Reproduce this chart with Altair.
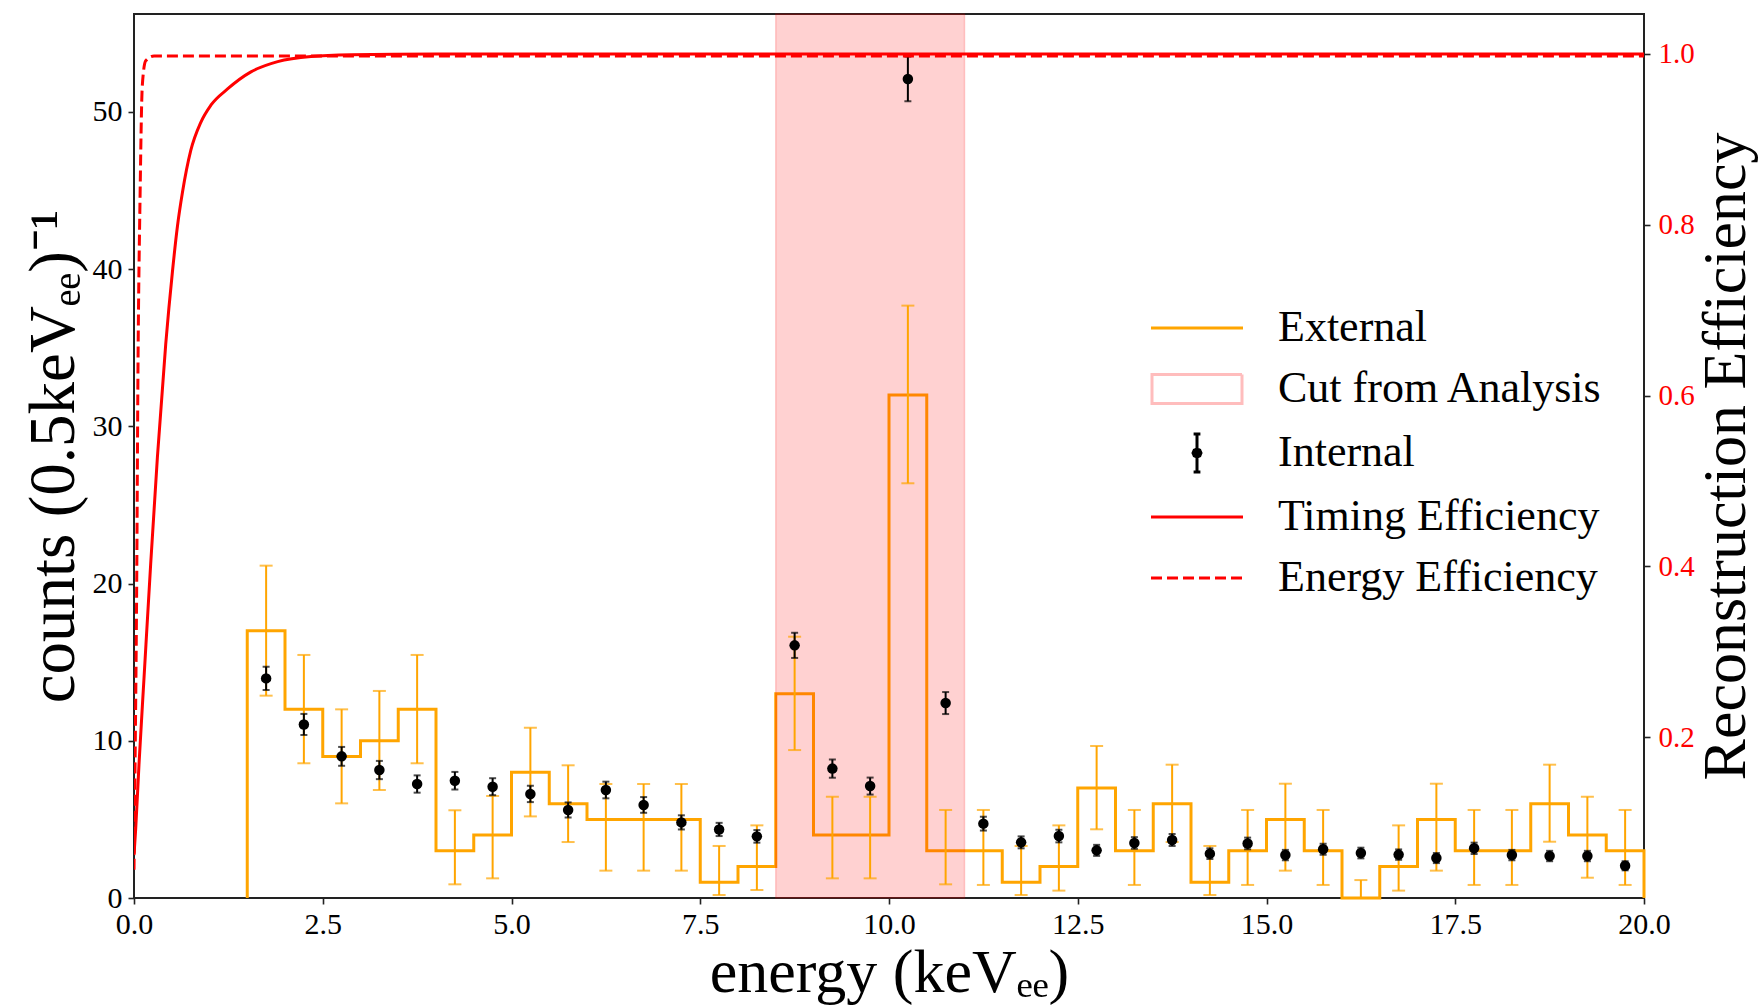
import altair as alt
import pandas as pd

# ---------------- data ----------------
bin_edges = [1.5, 2.0, 2.5, 3.0, 3.5, 4.0, 4.5, 5.0, 5.5, 6.0, 6.5, 7.0, 7.5, 8.0, 8.5,
             9.0, 9.5, 10.0, 10.5, 11.0, 11.5, 12.0, 12.5, 13.0, 13.5, 14.0, 14.5, 15.0,
             15.5, 16.0, 16.5, 17.0, 17.5, 18.0, 18.5, 19.0, 19.5, 20.0]
bin_centers = [1.75, 2.25, 2.75, 3.25, 3.75, 4.25, 4.75, 5.25, 5.75, 6.25, 6.75, 7.25,
               7.75, 8.25, 8.75, 9.25, 9.75, 10.25, 10.75, 11.25, 11.75, 12.25, 12.75,
               13.25, 13.75, 14.25, 14.75, 15.25, 15.75, 16.25, 16.75, 17.25, 17.75,
               18.25, 18.75, 19.25, 19.75]

external_counts = [17, 12, 9, 10, 12, 3, 4, 8, 6, 5, 5, 5, 1, 2, 13, 4, 4, 32, 3, 3, 1, 2,
                   7, 3, 6, 1, 3, 5, 3, 0, 2, 5, 3, 3, 6, 4, 3]
external_lo = [12.87, 8.57, 6.02, 6.87, 8.57, 0.87, 1.25, 5.19, 3.56, 1.74, 1.74, 1.74,
               0.19, 0.51, 9.41, 1.25, 1.25, 26.38, 0.87, 0.83, 0.19, 0.47, 4.37, 0.83,
               3.56, 0.19, 0.83, 1.74, 0.83, 0.0, 0.47, 1.74, 0.83, 0.83, 3.58, 1.29, 0.83]
external_hi = [21.14, 15.46, 12.0, 13.17, 15.46, 5.58, 6.49, 10.83, 8.44, 7.25, 7.25, 7.25,
               3.31, 4.62, 16.62, 6.44, 6.44, 37.68, 5.6, 5.6, 3.31, 4.62, 9.67, 5.6,
               8.48, 3.31, 5.6, 7.27, 5.6, 1.14, 4.62, 7.27, 5.6, 5.6, 8.48, 6.44, 5.6]

internal_counts = [13.97, 11.04, 9.01, 8.14, 7.25, 7.46, 7.08, 6.62, 5.6, 6.87, 5.92, 4.81,
                   4.36, 3.92, 16.07, 8.23, 7.12, 52.1, 12.4, 4.73, 3.54, 3.94, 3.03, 3.5,
                   3.69, 2.82, 3.47, 2.73, 3.1, 2.86, 2.76, 2.54, 3.16, 2.73, 2.67, 2.67, 2.05]
internal_err = [0.74, 0.67, 0.6, 0.58, 0.55, 0.56, 0.54, 0.52, 0.48, 0.53, 0.5, 0.45, 0.42,
                0.4, 0.8, 0.58, 0.54, 1.42, 0.7, 0.44, 0.38, 0.4, 0.35, 0.37, 0.38, 0.34,
                0.37, 0.33, 0.35, 0.34, 0.33, 0.32, 0.36, 0.33, 0.33, 0.33, 0.29]

cut_start = [8.5]
cut_end = [11.0]

timing_x = [0.0, 0.022, 0.066, 0.133, 0.221, 0.31, 0.42, 0.509, 0.575, 0.642, 0.752,
            0.885, 1.018, 1.239, 1.549, 1.903, 2.345, 2.876, 4.0, 20.0]
timing_eff = [0.062, 0.092, 0.168, 0.27, 0.403, 0.528, 0.66, 0.745, 0.798, 0.838, 0.887,
              0.92, 0.94, 0.959, 0.979, 0.991, 0.997, 0.999, 1.0, 1.0]
energy_x = [0.0, 0.012, 0.035, 0.053, 0.08, 0.11, 0.155, 0.265, 20.0]
energy_eff = [0.045, 0.15, 0.37, 0.634, 0.831, 0.963, 0.992, 0.9977, 0.9977]

legend_names = ["External", "Cut from Analysis", "Internal", "Timing Efficiency",
                "Energy Efficiency"]

x_ticks = [0.0, 2.5, 5.0, 7.5, 10.0, 12.5, 15.0, 17.5, 20.0]
left_ticks = [0, 10, 20, 30, 40, 50]
right_ticks = [0.2, 0.4, 0.6, 0.8, 1.0]

# ---------------- tables ----------------
step_x = [bin_edges[0]] + bin_edges[:-1] + [bin_edges[-1], bin_edges[-1]]
step_y = [0] + external_counts + [external_counts[-1], 0]
hist_df = pd.DataFrame({"x": step_x, "y": step_y, "i": list(range(len(step_x)))})

ext_df = pd.DataFrame({"x": bin_centers, "lo": external_lo, "hi": external_hi})
int_df = pd.DataFrame({"x": bin_centers, "y": internal_counts, "e": internal_err})
int_df["lo"] = int_df["y"] - int_df["e"]
int_df["hi"] = int_df["y"] + int_df["e"]
cut_df = pd.DataFrame({"a": cut_start, "b": cut_end})

timing_df = pd.DataFrame({"x": timing_x, "eff": timing_eff,
                          "i": list(range(len(timing_x)))})
energy_df = pd.DataFrame({"x": energy_x, "eff": energy_eff,
                          "i": list(range(len(energy_x)))})
legend_df = pd.DataFrame({"series": legend_names})

# ---------------- styling ----------------
FONT = "Liberation Serif"
ORANGE = "#FFA500"

x_scale = alt.Scale(domain=[0, 20], nice=False, zero=False)
x_axis = alt.Axis(values=x_ticks, format=".1f", title="energy (keVₑₑ)", grid=False,
                  labelFontSize=30, titleFontSize=62, titleFontWeight="normal",
                  titleBaseline="alphabetic", titleY=93, tickSize=6, labelPadding=5,
                  domain=False, labelFlush=False)
yl_scale = alt.Scale(domain=[0, 56.23], nice=False, zero=False)
yl_axis = alt.Axis(values=left_ticks, format="d", title="counts (0.5keVₑₑ)⁻¹", grid=False,
                   labelFontSize=30, titleFontSize=65, titleFontWeight="normal",
                   titleAngle=270, titleBaseline="alphabetic", titleX=-61, tickSize=6,
                   labelPadding=6, domain=False, labelFlush=False)
yr_scale = alt.Scale(domain=[0.0118, 1.0468], nice=False, zero=False)
yr_axis = alt.Axis(values=right_ticks, format=".1f", title="Reconstruction Efficiency",
                   orient="right", grid=False, labelFontSize=29, labelColor="red",
                   titleFontSize=62, titleFontWeight="normal", titleAngle=270,
                   titleBaseline="alphabetic", titleX=100, tickSize=6, labelPadding=8,
                   domain=False, labelFlush=False)

X = lambda f: alt.X(f, type="quantitative", scale=x_scale, axis=x_axis)
YL = lambda f: alt.Y(f, type="quantitative", scale=yl_scale, axis=yl_axis)
YR = lambda f: alt.Y(f, type="quantitative", scale=yr_scale, axis=yr_axis)

hist = alt.Chart(hist_df).mark_line(interpolate="step-after", color=ORANGE,
                                    strokeWidth=3).encode(
    x=X("x"), y=YL("y"), order="i:Q")

band = alt.Chart(cut_df).mark_rect(color="red", fillOpacity=0.18, stroke="red",
                                   strokeOpacity=0.18, strokeWidth=1.5).encode(
    x=X("a"), x2="b")

ext_rule = alt.Chart(ext_df).mark_rule(color=ORANGE, strokeWidth=2).encode(
    x=X("x"), y=YL("lo"), y2="hi")
ext_cap_hi = alt.Chart(ext_df).mark_tick(color=ORANGE, orient="horizontal", size=13,
                                         thickness=2).encode(x=X("x"), y=YL("hi"))
ext_cap_lo = alt.Chart(ext_df).mark_tick(color=ORANGE, orient="horizontal", size=13,
                                         thickness=2).encode(x=X("x"), y=YL("lo"))

int_rule = alt.Chart(int_df).mark_rule(color="black", strokeWidth=2).encode(
    x=X("x"), y=YL("lo"), y2="hi")
int_cap_hi = alt.Chart(int_df).mark_tick(color="black", orient="horizontal", size=7,
                                         thickness=2).encode(x=X("x"), y=YL("hi"))
int_cap_lo = alt.Chart(int_df).mark_tick(color="black", orient="horizontal", size=7,
                                         thickness=2).encode(x=X("x"), y=YL("lo"))
int_pts = alt.Chart(int_df).mark_point(filled=True, color="black", size=110,
                                       opacity=1).encode(x=X("x"), y=YL("y"))

left_group = alt.layer(hist, band, ext_rule, ext_cap_hi, ext_cap_lo,
                       int_rule, int_cap_hi, int_cap_lo, int_pts)

timing = alt.Chart(timing_df).mark_line(strokeWidth=3, interpolate="monotone",
                                        color="red", clip=True).encode(
    x=X("x"), y=YR("eff"), order="i:Q")
energy = alt.Chart(energy_df).mark_line(strokeWidth=3, interpolate="monotone",
                                        color="red", strokeDash=[11, 5],
                                        clip=True).encode(
    x=X("x"), y=YR("eff"), order="i:Q")
right_group = alt.layer(timing, energy)

# legend: custom symbols through shape / fill / stroke / dash scales
LINE = "M-2.3,0H2.3"
RECT = "M-2.25,-0.72H2.25V0.72H-2.25Z"
DOT_OUT = "M-0.2,0L-0.14,-0.14L0,-0.2L0.14,-0.14L0.2,0L0.14,0.14L0,0.2L-0.14,0.14Z"
DOT_IN = "M-0.08,0L0,-0.08L0.08,0L0,0.08Z"
ERRB = "M0,-0.95V0.95M-0.17,-0.95H0.17M-0.17,0.95H0.17" + DOT_OUT + DOT_IN

leg = alt.Legend(title=None, orient="none", legendX=1041, legendY=292, padding=0,
                 symbolSize=1600, symbolStrokeWidth=3, labelFont=FONT, labelFontSize=44,
                 labelColor="black", labelOffset=59, labelLimit=1000, rowPadding=17)

legend_layer = alt.Chart(legend_df).mark_point(opacity=0, filled=True, size=1600).encode(
    shape=alt.Shape("series:N", scale=alt.Scale(domain=legend_names,
                    range=[LINE, RECT, ERRB, LINE, LINE]), legend=leg),
    fill=alt.Fill("series:N", scale=alt.Scale(domain=legend_names,
                  range=["transparent", "#FFD1D1", "black", "transparent", "transparent"]),
                  legend=leg),
    stroke=alt.Stroke("series:N", scale=alt.Scale(domain=legend_names,
                      range=[ORANGE, "#FFBDBD", "black", "red", "red"]), legend=leg),
    strokeDash=alt.StrokeDash("series:N", scale=alt.Scale(domain=legend_names,
                              range=[[1, 0], [1, 0], [1, 0], [1, 0], [11, 5]]),
                              legend=leg),
)

chart = alt.layer(left_group, right_group, legend_layer).resolve_scale(
    y="independent").properties(
    width=1510, height=884,
    padding={"left": 134, "top": 14, "right": 116, "bottom": 107},
    autosize=alt.AutoSizeParams(type="none"),
    background="white",
).configure_view(stroke="#222222", strokeWidth=2).configure_axis(
    labelFont=FONT, titleFont=FONT, labelColor="black", titleColor="black",
    tickColor="#222222", tickWidth=1.6,
)

chart.save("out.html", embed_options={"renderer": "svg", "actions": False})
